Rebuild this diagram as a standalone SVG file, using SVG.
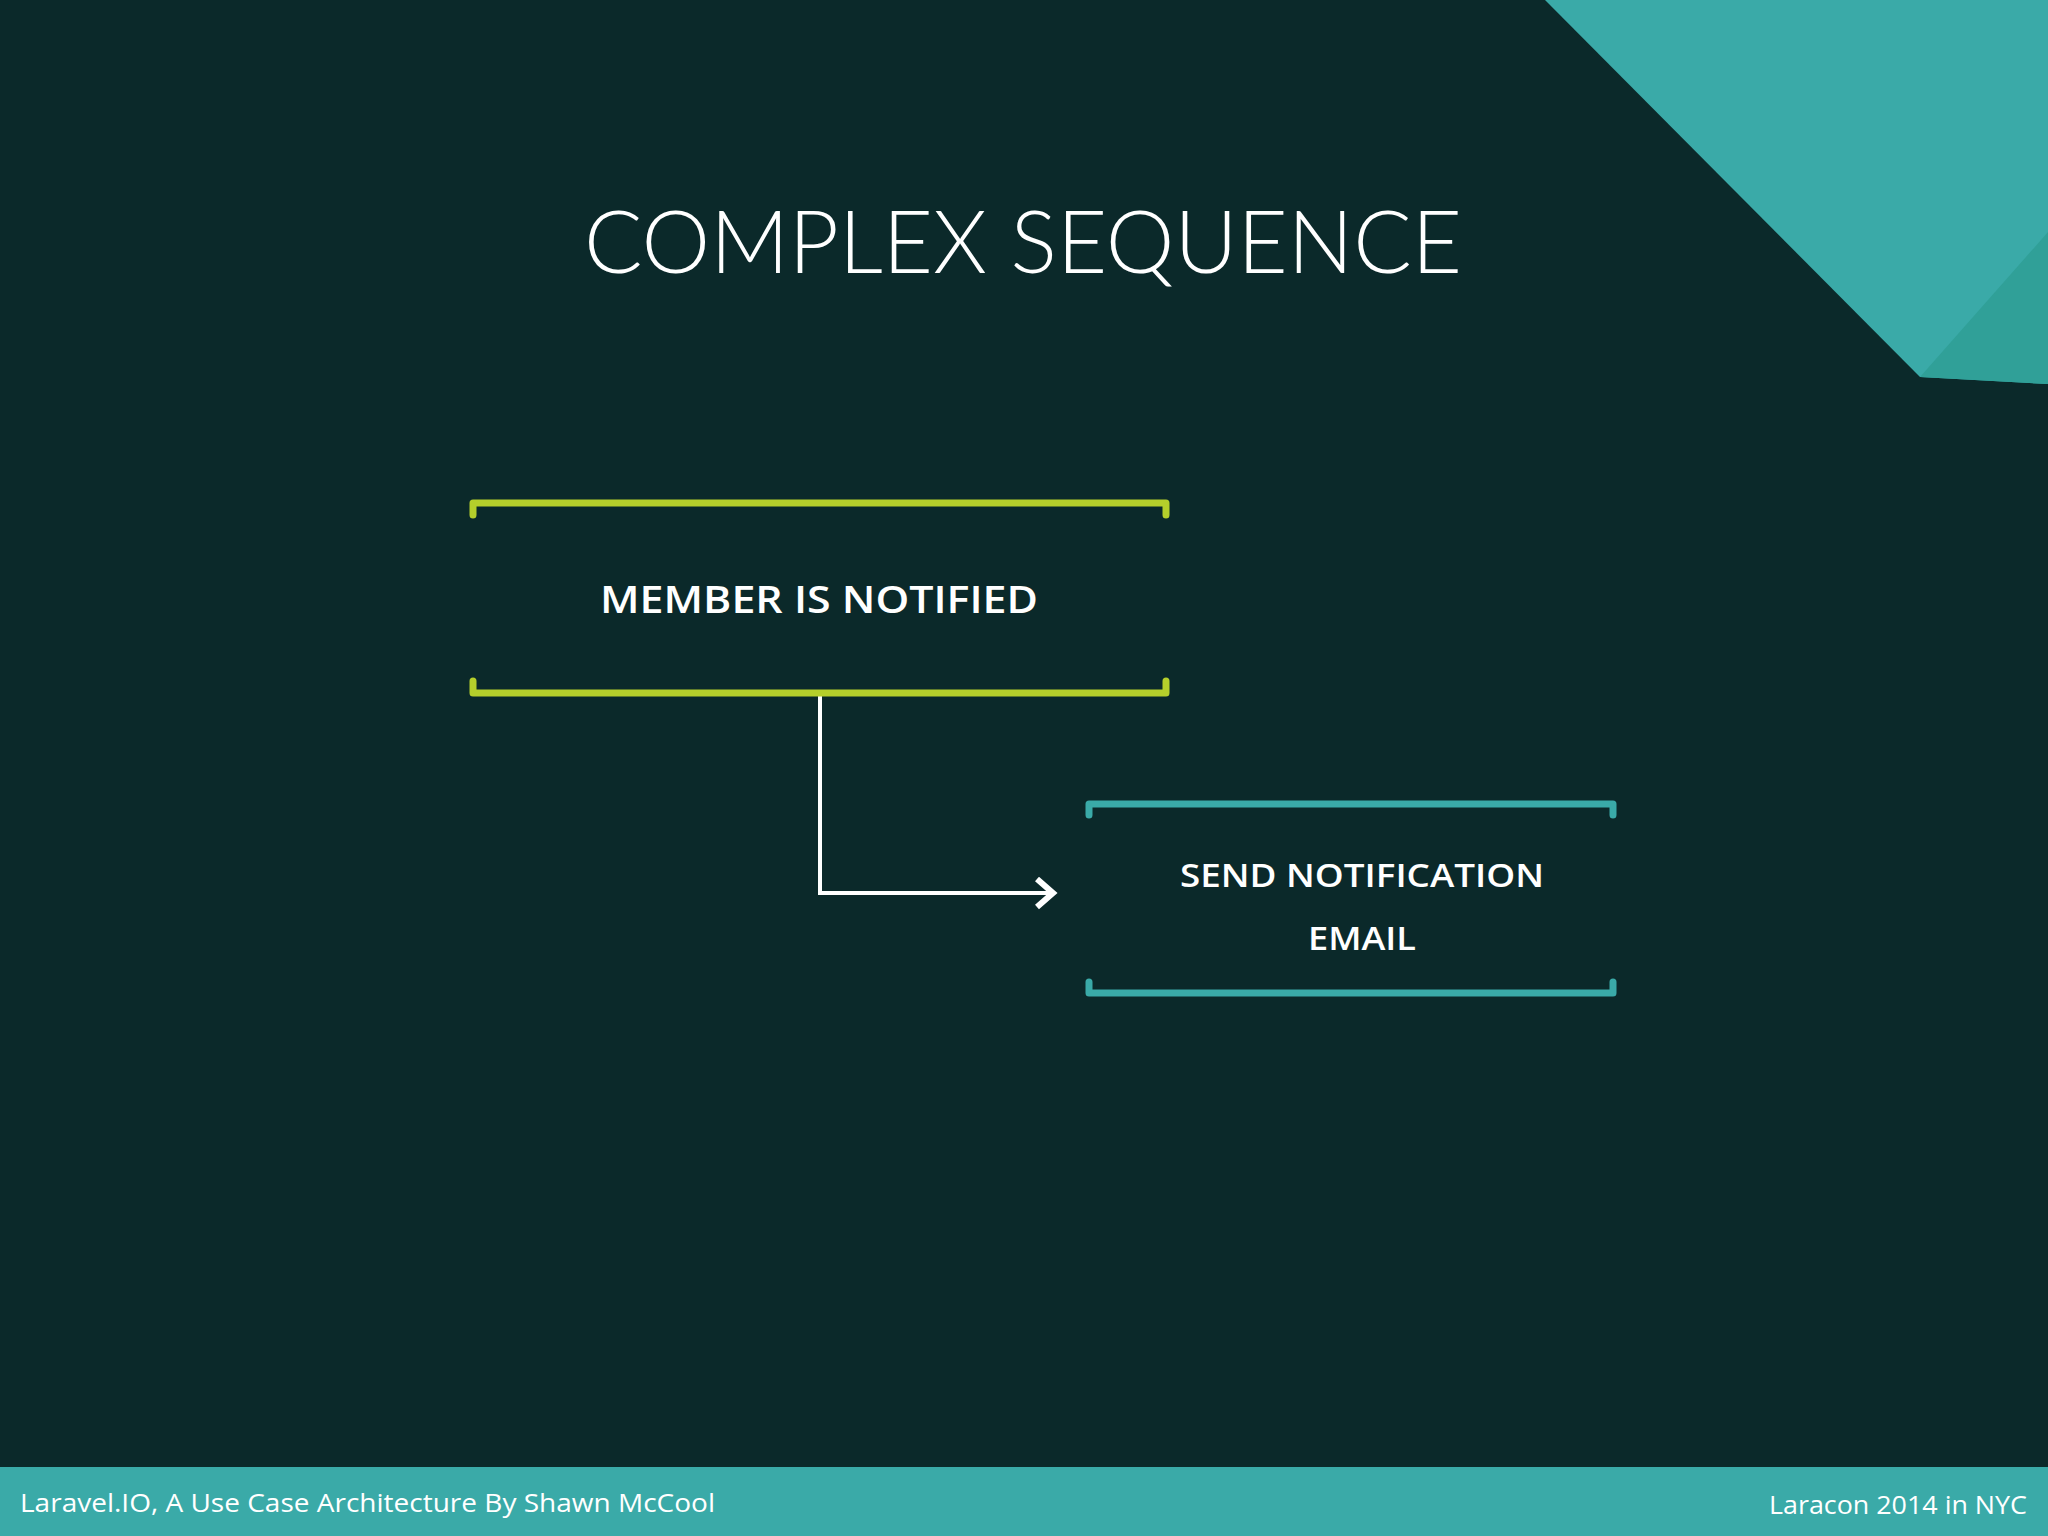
<svg xmlns="http://www.w3.org/2000/svg" width="2048" height="1536" viewBox="0 0 2048 1536">
  <defs>
    <style>
      .bg { fill: #0b292a; }
      .lbl { font-family: "Open Sans", "Liberation Sans", sans-serif; font-weight: 600; fill: #ffffff; text-anchor: middle; }
      .title { font-family: Lato, "Open Sans", sans-serif; font-weight: 300; fill: #ffffff; text-anchor: middle; }
      .foot { font-family: "Open Sans", "Liberation Sans", sans-serif; font-weight: 400; fill: #ffffff; }
      .bracket-lime { fill: none; stroke: #b5cf2b; stroke-width: 7; stroke-linejoin: round; stroke-linecap: round; }
      .bracket-teal { fill: none; stroke: #3aaaa8; stroke-width: 7; stroke-linejoin: round; stroke-linecap: round; }
      .conn { fill: none; stroke: #ffffff; stroke-width: 4; }
    </style>
    <marker id="chev" markerUnits="userSpaceOnUse" markerWidth="30" markerHeight="36" refX="20" refY="16" orient="auto">
      <path d="M3,2 L19,16 L3,30" fill="none" stroke="#ffffff" stroke-width="6"/>
    </marker>
  </defs>

  <rect class="bg" x="0" y="0" width="2048" height="1536"/>

  <!-- corner decoration -->
  <polygon points="1545,0 2048,0 2048,384 1920,377" fill="#3aaaa8"/>
  <polygon points="1920,377 2048,232 2048,384" fill="#30a098"/>

  <text class="title" x="1023" y="273" font-size="86" textLength="878" lengthAdjust="spacingAndGlyphs">COMPLEX SEQUENCE</text>

  <g id="connectors">
    <path class="conn" d="M820,694 L820,893 L1054,893" marker-end="url(#chev)"/>
  </g>

  <g id="member-is-notified">
    <path class="bracket-lime" d="M473,515 L473,503 L1166,503 L1166,515"/>
    <path class="bracket-lime" d="M473,681 L473,693 L1166,693 L1166,681"/>
    <text class="lbl" x="819" y="613" font-size="37" textLength="438" lengthAdjust="spacingAndGlyphs">MEMBER IS NOTIFIED</text>
  </g>

  <g id="send-notification-email">
    <path class="bracket-teal" d="M1089,815 L1089,804 L1613,804 L1613,815"/>
    <path class="bracket-teal" d="M1089,982 L1089,993 L1613,993 L1613,982"/>
    <text class="lbl" x="1362" y="887" font-size="33" textLength="364" lengthAdjust="spacingAndGlyphs">SEND NOTIFICATION</text>
    <text class="lbl" x="1362" y="950" font-size="33" textLength="108" lengthAdjust="spacingAndGlyphs">EMAIL</text>
  </g>

  <g id="footer">
    <rect x="0" y="1467" width="2048" height="69" fill="#3aaaa8"/>
    <text class="foot" x="20" y="1512" font-size="26" textLength="695" lengthAdjust="spacingAndGlyphs">Laravel.IO, A Use Case Architecture By Shawn McCool</text>
    <text class="foot" x="2027" y="1514" font-size="25" text-anchor="end" textLength="258" lengthAdjust="spacingAndGlyphs">Laracon 2014 in NYC</text>
  </g>
</svg>
